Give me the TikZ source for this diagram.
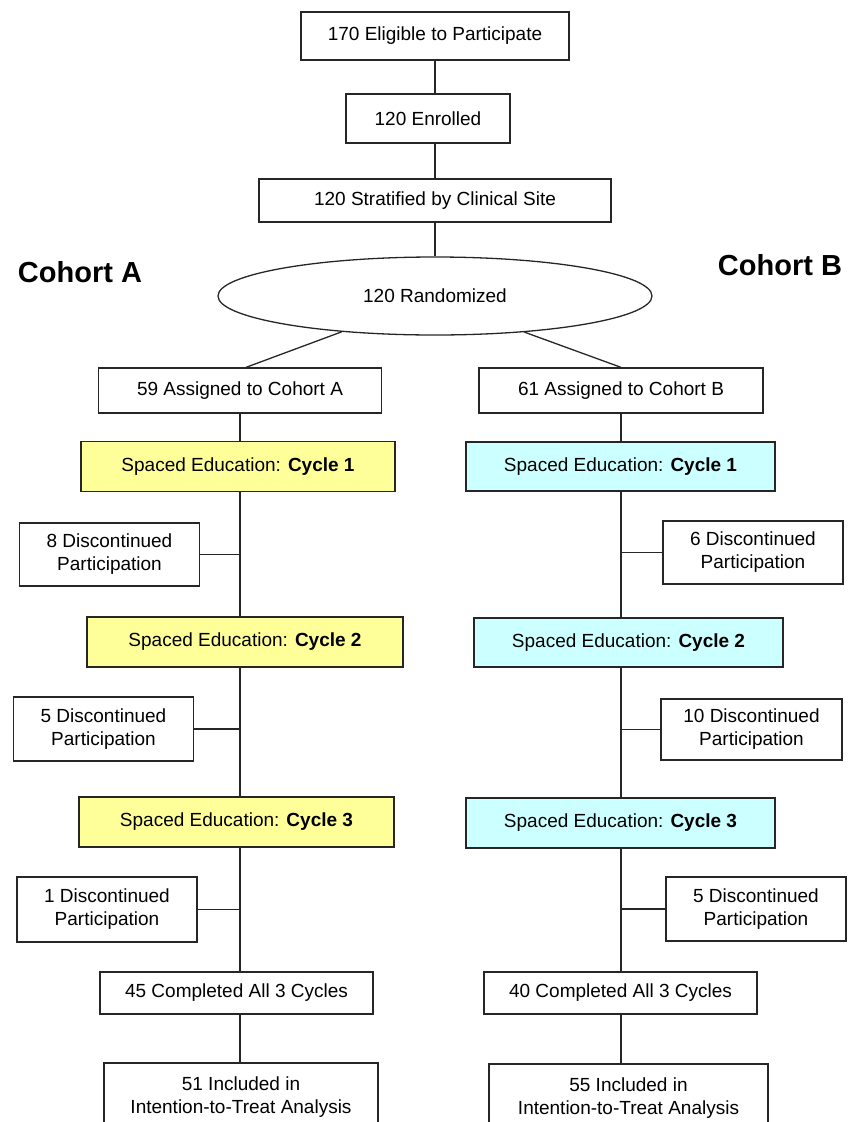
\documentclass[tikz,border=0pt]{standalone}
\usepackage{fontspec}
\setmainfont{Liberation Sans}
\usetikzlibrary{shapes.geometric}
\definecolor{cycyellow}{RGB}{255,255,153}
\definecolor{cyccyan}{RGB}{204,255,255}
\tikzset{
	box/.style={draw=black!85, line width=1.3pt, rectangle, inner sep=0pt, align=center, font=\fontsize{19}{23}\selectfont},
	cyca/.style={box, fill=cycyellow, minimum height=50pt},
	cycb/.style={box, fill=cyccyan, minimum height=50pt},
	disc/.style={box, minimum width=180pt, minimum height=63pt},
	link/.style={line width=1.3pt, color=black!85},
}

\begin{document}
\begin{tikzpicture}[x=1pt, y=-1pt]
			%%%%% START %%%%%
			\useasboundingbox (0, 0) rectangle (847, 1122);
			
			\node[box, minimum width=268pt, minimum height=48pt] (elig) at (435, 36) {170 Eligible to Participate};
			\node[box, minimum width=164pt, minimum height=49pt] (enr) at (428, 118.5) {120 Enrolled};
			\node[box, minimum width=352pt, minimum height=43pt] (strat) at (435, 200.5) {120 Stratified by Clinical Site};
			\node[box, ellipse, minimum width=434pt, minimum height=78pt] (rand) at (435, 296) {120 Randomized};
			
			\node[font=\fontsize{29}{34}\selectfont\bfseries] (cohA) at (80, 272) {Cohort A};
			\node[font=\fontsize{29}{34}\selectfont\bfseries] (cohB) at (780, 265) {Cohort B};
			
			\draw[link] (elig.south) -- (elig.south |- enr.north);
			\draw[link] (elig.south |- enr.south) -- (strat.north);
			\draw[link] (strat.south) -- (rand.north);
			
			%%%%% COHORT A %%%%%
			\node[box, minimum width=283pt, minimum height=45pt] (assA) at (240, 390.5) {59 Assigned to Cohort A};
			\node[cyca, minimum width=314pt] (cyc1A) at (238, 466.5) {Spaced Education: \textbf{Cycle 1}};
			\node[disc] (dis8) at (109.5, 554.5) {8 Discontinued\\Participation};
			\node[cyca, minimum width=316pt] (cyc2A) at (245, 642) {Spaced Education: \textbf{Cycle 2}};
			\node[disc, minimum height=64pt] (dis5A) at (103.5, 729) {5 Discontinued\\Participation};
			\node[cyca, minimum width=315pt] (cyc3A) at (236.5, 822) {Spaced Education: \textbf{Cycle 3}};
			\node[disc, minimum height=65pt] (dis1) at (107, 909.5) {1 Discontinued\\Participation};
			\node[box, minimum width=273pt, minimum height=42pt] (compA) at (236.5, 993) {45 Completed All 3 Cycles};
			\node[box, minimum width=274pt, minimum height=68pt] (inclA) at (241, 1097) {51 Included in\\Intention-to-Treat Analysis};
			
			\draw[link] (rand.201) -- ([xshift=6pt]assA.north);
			\draw[link] (assA.south) -- (assA.south |- cyc1A.north);
			\draw[link] (assA.south |- cyc1A.south) -- (assA.south |- cyc2A.north);
			\draw[link] (assA.south |- cyc2A.south) -- (assA.south |- cyc3A.north);
			\draw[link] (assA.south |- cyc3A.south) -- (assA.south |- compA.north);
			\draw[link] (assA.south |- compA.south) -- (assA.south |- inclA.north);
			\draw[link] (dis8.east) -- (dis8.east -| assA.south);
			\draw[link] (dis5A.east) -- (dis5A.east -| assA.south);
			\draw[link] (dis1.east) -- (dis1.east -| assA.south);
			
			%%%%% COHORT B %%%%%
			\node[box, minimum width=284pt, minimum height=45pt] (assB) at (621, 390.5) {61 Assigned to Cohort B};
			\node[cycb, minimum width=309pt, minimum height=49pt] (cyc1B) at (620.5, 466.5) {Spaced Education: \textbf{Cycle 1}};
			\node[disc] (dis6) at (753, 552.5) {6 Discontinued\\Participation};
			\node[cycb, minimum width=309pt, minimum height=49pt] (cyc2B) at (628.5, 642.5) {Spaced Education: \textbf{Cycle 2}};
			\node[disc, minimum width=181pt, minimum height=61pt] (dis10) at (751.5, 729.5) {10 Discontinued\\Participation};
			\node[cycb, minimum width=309pt] (cyc3B) at (620.5, 823) {Spaced Education: \textbf{Cycle 3}};
			\node[disc, minimum height=64pt] (dis5B) at (756, 909) {5 Discontinued\\Participation};
			\node[box, minimum width=273pt, minimum height=42pt] (compB) at (620.5, 993) {40 Completed All 3 Cycles};
			\node[box, minimum width=279pt, minimum height=68pt] (inclB) at (628.5, 1098) {55 Included in\\Intention-to-Treat Analysis};
			
			\draw[link] (rand.338) -- (assB.north);
			\draw[link] (assB.south) -- (assB.south |- cyc1B.north);
			\draw[link] (assB.south |- cyc1B.south) -- (assB.south |- cyc2B.north);
			\draw[link] (assB.south |- cyc2B.south) -- (assB.south |- cyc3B.north);
			\draw[link] (assB.south |- cyc3B.south) -- (assB.south |- compB.north);
			\draw[link] (assB.south |- compB.south) -- (assB.south |- inclB.north);
			\draw[link] (dis6.west) -- (dis6.west -| assB.south);
			\draw[link] (dis10.west) -- (dis10.west -| assB.south);
			\draw[link] (dis5B.west) -- (dis5B.west -| assB.south);
			
			%%%%% END %%%%%
\end{tikzpicture}
\end{document}
